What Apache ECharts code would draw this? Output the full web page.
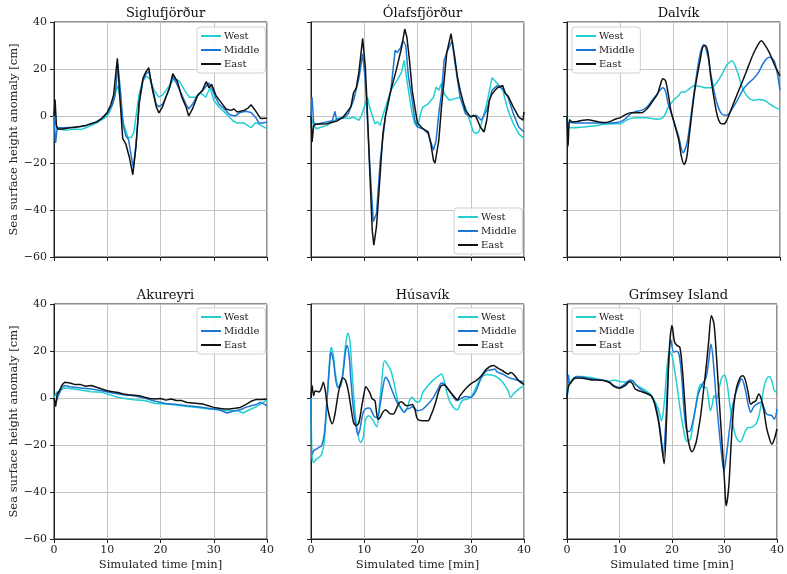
<!DOCTYPE html>
<html><head><meta charset="utf-8">
<script src="https://cdn.jsdelivr.net/npm/echarts@6/dist/echarts.min.js"></script>
<style>html,body{margin:0;padding:0;background:#fff}#c{width:787px;height:574px}</style>
</head><body><div id="c"></div>
<script>
// ---- data (time [min], anomaly [cm]) ----
const stations = ['Siglufjörður','Ólafsfjörður','Dalvík','Akureyri','Húsavík','Grímsey Island'];
const seriesNames = ['West','Middle','East'];
const xTicks = [0,10,20,30,40];
const yTicks = [-60,-40,-20,0,20,40];

const sigW = [[0,0],[0.3,-3],[0.7,-5.5],[1,-6],[2,-6],[3,-5.8],[4,-5.5],[5,-5.8],[6,-5],[7,-4],[8,-3],[9,-1.5],[10,0],[10.5,2],[11,5],[11.5,10],[12,13],[12.5,6],[12.9,-2],[13.9,-9.2],[14.5,-9.2],[15,-7],[15.4,0],[16,9.5],[16.7,15],[17.3,17],[17.9,16],[18.8,11],[19.7,8],[20.4,9],[21.7,13],[22.6,16],[23.5,15],[24.5,11],[25.4,8],[26.6,8],[27.6,9.8],[28.5,8],[29.3,12],[30,6.7],[31,3.8],[32.3,1],[33.5,-1.8],[34.4,-3],[35.7,-3],[37,-5],[37.9,-2.8],[39.2,-4.4],[40,-5.4]];
const sigM = [[0,0],[0.3,-11.5],[0.6,-5],[2,-5],[4,-4.8],[6,-4],[8,-2.5],[9,-1],[10,1],[11,5],[11.5,9],[12,22],[12.5,10],[13,-4],[13.5,-8.5],[14,-10],[14.5,-17],[14.9,-22],[15.4,-12],[16,5],[16.7,15],[17.3,18],[17.8,19],[18.5,12],[19.2,5],[19.7,4],[20.4,5],[21,8],[21.7,12],[22.3,17],[23,14],[24,9],[24.8,5],[25.3,3],[26,5],[27,9],[28,11],[28.7,13],[29.1,14],[29.6,12],[30.3,8],[31,5],[32,3],[33,0.5],[34,0],[35,1.5],[36,2],[37,1.5],[38,-1],[38.5,-3],[39.3,-3],[40,-2.5]];
const sigE = [[0,0],[0.2,7],[0.45,-4],[0.7,-5.5],[1.5,-5.5],[3,-5],[5,-4.5],[6,-4],[7,-3.3],[8,-2.5],[9,-1],[10,1.5],[10.7,5],[11.2,9],[11.9,24.5],[12.4,7],[12.9,-9.5],[13.5,-12],[14.2,-18],[14.8,-25],[15.4,-13],[16,6],[16.7,16],[17.3,19],[17.8,20.5],[18.5,11],[19.2,4],[19.7,1.3],[20.4,4],[21,8],[21.7,12],[22.3,18],[23.2,14.5],[24,8],[24.8,3.8],[25.3,0],[26,3],[27,8.8],[27.9,11],[28.6,14.7],[29.1,12],[29.6,13.5],[30.4,8.8],[31.3,6],[32.3,3],[33.2,2.4],[33.8,3],[34.4,1.7],[35.7,2.4],[36.5,3.5],[37,4.8],[37.6,3],[38.2,1],[38.8,-1.1],[40,-1]];

const olaW = [[0,0],[0.5,-4],[1,-5.4],[2,-4.7],[3,-4],[4,-2.5],[5,-1.1],[6,-0.5],[7,-1.1],[8,-0.5],[9,-1.8],[9.5,0.3],[10,3.8],[10.6,8],[11,3.8],[11.5,0.3],[12,-3.3],[12.5,-2.5],[13,-4],[13.5,0.3],[14,3.8],[15,11],[16,14.5],[17,18.7],[17.5,23.7],[18,15.5],[18.5,8],[19,1],[19.5,-3.3],[20,-4.7],[20.5,0.3],[21,3.8],[22,5.2],[23,8],[23.5,12.3],[24,11],[24.5,13.8],[25,9.5],[26,6.7],[27,7.4],[28,8],[29,3.8],[30,-3.3],[30.5,-6.8],[31,-7.5],[31.5,-6.8],[32,-3.3],[33,5.2],[34,16.3],[35,13.8],[36,11],[36.5,6.7],[37,2.4],[38,-3.3],[39,-7.5],[40,-9.6]];
const olaM = [[0,0],[0.2,8],[0.5,-3],[1,-3.5],[2,-3],[3,-2.5],[4,-2],[4.5,2],[4.8,-1.5],[6,-1],[7,1],[8,6.7],[9,16],[9.7,26.5],[10.2,15],[11,-19],[11.7,-45],[12.3,-41.5],[13,-19],[14,0.3],[15,11],[15.8,28],[16.2,27],[16.8,29],[17.3,32],[17.8,30],[18.3,16.6],[19,6.7],[19.5,-1.8],[20,-4.7],[21,-5.4],[22,-7.5],[23,-14.6],[23.5,-10.4],[24,1],[24.5,9.5],[25,23.7],[25.5,27],[26.5,32],[27,23],[28,8],[29,1],[30,-0.4],[31,0.3],[32,-1.8],[33,2.4],[34,11],[35,13],[36,11.6],[37,8],[38,1],[39,-4.7],[40,-6.8]];
const olaE = [[0,0],[0.2,-11],[0.5,-4],[1,-3.5],[3,-3.3],[5,-2],[6,-0.5],[7,2.4],[7.5,4],[8,10],[8.5,12],[9,18.7],[9.7,33],[10.2,20.8],[10.5,6.7],[11,-21.7],[11.5,-48.6],[11.8,-55],[12.3,-47],[13,-24.5],[13.5,-7.5],[14,0.3],[15,11],[16,19.4],[17,29],[17.6,37],[18,33.6],[18.5,23.6],[19,11],[19.5,3.8],[20,-3],[21,-5.4],[22,-6.8],[22.5,-11.8],[23,-18.9],[23.3,-20],[24,-10.4],[24.5,3.8],[25,15],[25.5,27],[26.3,35],[27,25],[27.5,16.6],[28,11],[29,2.4],[30,-0.4],[30.5,0.3],[31,-0.4],[31.8,-4.7],[32.5,-6.8],[33,-1.8],[33.5,6.7],[34,9.5],[35,12],[36,13],[36.5,9.5],[37,8.5],[38,3.8],[39,-0.4],[39.8,-1.8],[40,1.7]];

const dalW = [[0,0],[0.3,-4.5],[0.5,-5],[1,-5],[3,-4.7],[5,-4.3],[7,-3.5],[9,-3.3],[10,-3.3],[11,-2],[12,-1],[13,-0.7],[15,-0.7],[16,-1.1],[17,-1.4],[18,-0.7],[18.5,1],[19,3.8],[20,6.7],[21,8.8],[21.5,10.2],[22,10.2],[23,11.6],[24,13],[25,12.6],[26,12],[27,12],[28,13.8],[29,17.3],[30,21.6],[31,23.4],[32,18.7],[33,11.6],[34,8],[35,6.7],[36,7],[37,6.7],[38,5.2],[39,3.8],[40,2.8]];
const dalM = [[0,0],[0.25,-5.4],[0.5,-2.8],[2,-3],[4,-3],[6,-3],[8,-3],[10,-2.5],[11,-1.1],[12,1],[13,2],[14,2.4],[15,3.8],[16,6.7],[17,9.5],[18,12],[18.5,10.5],[19,5.2],[20,-1.8],[21,-9],[21.8,-15.6],[22.5,-11.8],[23,-4.7],[24,12.3],[25,26.5],[25.7,30.4],[26.5,25],[27,18],[28,6.7],[29,1],[30,0.3],[31,3],[32,6.7],[33,11],[34,13.8],[35,15.9],[36,18.7],[37,23],[38,25],[39,23],[40,11]];
const dalE = [[0,0],[0.2,-12.8],[0.5,-1.6],[1,-2.5],[2,-2.3],[3,-1.8],[4,-1.6],[5,-2],[6,-2.5],[7,-2.8],[8,-2.4],[9,-1.4],[10,-0.7],[11,0.6],[12,1.4],[13,1.4],[14,1.4],[15,3],[16,6],[17,9.5],[17.5,13],[18,15.9],[18.5,15],[19,9.5],[19.5,2.4],[20,-1.8],[21,-10.4],[21.5,-17.4],[22,-20.6],[22.5,-17.4],[23,-7.5],[24,11],[25,23.7],[25.5,29.4],[26,30],[26.5,26.5],[27,16.6],[28,2.4],[28.5,-1.8],[29,-3.3],[29.5,-3.3],[30,-1.8],[31,3.8],[32,9.5],[33,15],[34,20.8],[35,26.5],[36,30.8],[36.5,32],[37,30.8],[38,27],[39,21.6],[40,17]];

const akuW = [[0,0],[0.5,2.4],[1,3],[2,4.3],[3,4],[5,3.4],[7,2.7],[9,2.4],[10,1.7],[11,1],[12,0.3],[13,-0.1],[15,-0.7],[17,-1.1],[19,-2.3],[21,-2.6],[23,-3],[25,-3.6],[27,-4],[29,-4.7],[31,-5],[33,-5.4],[34.5,-5.4],[35.5,-6.4],[37,-4.7],[38,-3.7],[39,-2.3],[40,-0.7]];
const akuM = [[0,0],[0.3,-2.6],[0.7,0.5],[1.5,4.6],[2,5.3],[3,4.8],[5,4.3],[7,3.8],[9,3.1],[11,2.1],[13,1.4],[15,1],[17,0],[19,-1.4],[21,-2.3],[23,-2.8],[25,-3.3],[27,-3.7],[29,-4.4],[31,-5],[32.5,-6.4],[34,-5.4],[35,-5],[36,-4],[37,-3.3],[38,-2.8],[38.7,-1.9],[39.5,-2.6],[40,-3.3]];
const akuE = [[0,0],[0.3,-3.7],[0.6,1.7],[1,3],[1.5,5.5],[2,6.7],[3,6.4],[4,5.7],[5,5.7],[6,5],[7,5.3],[8,4.6],[9,3.8],[10,3.1],[11,2.7],[12,2.3],[13,1.7],[14,1.4],[15,1.2],[16,1],[17,0.3],[18,-0.2],[19,-0.4],[20,-0.2],[21,-0.9],[22,-0.4],[23,-1.1],[24,-1.1],[25,-1.9],[26,-2.1],[27,-2.3],[28,-2.6],[29,-3.3],[30,-4],[31,-4.4],[32,-4.7],[33,-4.7],[34,-4.4],[35,-4],[36,-2.8],[37,-1.4],[38,-0.6],[39,-0.6],[40,-0.4]];

const husW = [[0,0],[0.2,-25.3],[0.5,-27.4],[1,-26],[1.5,-25.3],[2,-23.9],[2.5,-18.5],[3,-1.1],[3.5,15.9],[3.8,21.6],[4.2,18.1],[4.5,11.6],[5,5.2],[5.5,4.5],[6,11.6],[6.5,22.7],[6.9,27.7],[7.3,24.4],[7.7,11.6],[8.2,-4],[8.7,-14],[9.3,-18.9],[9.8,-16.8],[10.2,-9.7],[10.8,-7.5],[11.5,-9],[12,-11],[12.4,-12.2],[12.8,-4],[13.3,7.4],[13.8,15.9],[14.5,13.8],[15,11.6],[15.5,7.4],[16,1.7],[16.5,-2.6],[17,-4.7],[17.5,-6.1],[18,-4.7],[18.5,-1.1],[19,0.3],[19.5,-1.1],[20,-1.8],[20.5,-1.1],[21,2.4],[22,5.3],[23,7.7],[24,9.5],[24.5,10.2],[25,7.4],[25.5,2.4],[26,-1.1],[27,-4.7],[27.5,-5],[28,-2.6],[28.5,-0.9],[29,-0.7],[30,0.3],[31,4.5],[32,8.8],[33,10],[34,9.8],[35,8.8],[36,6.7],[37,3.1],[37.5,0.3],[38,1.7],[39,3.8],[40,5.3]];
const husM = [[0,0],[0.2,-23.9],[0.5,-22.4],[1,-21.8],[1.5,-21],[2,-20.3],[2.5,-15.3],[3,-1.1],[3.5,14.5],[3.7,19.5],[4.2,16],[4.5,10.2],[5,4.5],[5.5,5.2],[6,10.2],[6.5,20.2],[6.8,22.3],[7.2,17],[7.5,7.4],[8,-5.4],[8.5,-12.5],[8.8,-15.6],[9.2,-13.2],[9.7,-6.8],[10.2,-4.7],[11,-4.3],[11.5,-6.1],[12,-8.2],[12.5,-8.2],[13,-2.6],[13.5,4.5],[14,8.8],[14.5,7.4],[15,4.5],[16,-1.1],[17,-4.7],[17.5,-6.1],[18,-4.7],[18.5,-4.4],[19,-3.7],[20,-5.4],[21,-4.7],[22,-2.6],[23,0.3],[24,4.5],[24.5,6.4],[25,6],[26,3.1],[27,-0.4],[27.5,-1.1],[28,-0.4],[29,0.6],[30,0.3],[31,3.1],[32,8.8],[33,11.6],[34,12],[34.5,12.3],[35,11],[36,10.2],[37,8.8],[38,8.1],[39,7.4],[40,6.7]];
const husE = [[0,0],[0.2,5.3],[0.5,1],[0.8,3],[1.5,2.6],[2,4.5],[2.3,6.7],[2.7,3],[3,-2.6],[3.5,-8.2],[4,-11],[4.5,-6.8],[5,0.3],[5.5,6],[6,8.5],[6.5,7.4],[7,3],[7.5,-4],[8,-10.4],[8.5,-11.8],[9,-10.4],[9.5,-4],[10,2.4],[10.3,4.8],[11,2.4],[11.5,-0.4],[12,-1.1],[12.3,-6],[12.6,-9],[13,-8.2],[13.5,-6],[14,-5],[14.5,-6],[15,-6.8],[15.5,-6.8],[16,-4.7],[16.5,-2.3],[17,-1.6],[17.5,-2.6],[18,-3.3],[19,-2.8],[19.5,-4.7],[20,-9],[21,-9.7],[22,-9.7],[22.5,-7.5],[23,-4.7],[23.5,-1.1],[24,3],[24.5,5.3],[25,5.5],[25.5,4.5],[26,3],[27,0.3],[27.5,-0.7],[28,1],[29,3.8],[30,6],[31,7.4],[32,9.5],[33,12.4],[34.3,13.8],[35,12.8],[36,11.6],[37,10.2],[37.5,10.8],[38,10.2],[39,7.4],[40,5.7]];

const griW = [[0,0],[0.3,4.5],[1,8],[2,9.2],[3,9.1],[4,8.8],[5,8.5],[6,8],[7,7.7],[8,7.1],[9,7.7],[10,7],[11,6.8],[12,7],[12.5,7.1],[13,5.7],[14,4.5],[15,3.1],[16,1.3],[17,-2.6],[17.5,-5.4],[18,-9.7],[18.5,-2.6],[19,11.6],[19.5,19.9],[20,18.1],[20.5,11.6],[21,4.5],[21.5,-4],[22,-11],[22.5,-16.8],[23,-18.6],[23.5,-17.5],[24,-11],[24.5,-4],[25,3.1],[25.5,6],[26,4.5],[26.5,4.5],[27,-1.1],[27.3,-5.4],[27.7,-2.6],[28,1],[28.5,-0.4],[29,4.5],[29.5,8.8],[30,9.8],[30.5,6],[31,-2.6],[31.5,-9.7],[32,-15.3],[32.5,-17.8],[33,-18.6],[33.5,-16.8],[34,-14],[34.5,-12.5],[35,-12.5],[36,-11],[36.5,-8.2],[37,-2.6],[37.5,4.5],[38,8],[38.5,9.2],[39,7.4],[39.5,3.1],[40,2.4]];
const griM = [[0,0],[0.3,9.8],[0.5,6],[1,7.4],[1.5,8.8],[2,9.1],[3,8.8],[4,8.4],[5,8.1],[6,7.7],[7,7.5],[8,6.8],[9,5.3],[10,4.5],[11,5.9],[12,7.7],[12.5,7.4],[13,6],[14,3.8],[15,2.4],[16,1],[16.5,-1.1],[17,-4],[17.5,-9.7],[18,-18.2],[18.3,-25],[18.8,-11],[19.3,13],[19.8,24.7],[20.3,19.5],[20.8,19.9],[21.3,19],[21.8,10.2],[22.3,-5.4],[22.8,-14],[23.3,-14.3],[24,-9.7],[24.5,-4],[25,1.7],[25.5,4.5],[26,6.7],[26.5,8.8],[27,15.9],[27.4,23],[27.8,17.3],[28.3,3.1],[28.8,-9.7],[29.3,-21],[29.9,-31],[30.4,-23.9],[31,-12.5],[31.5,-4],[32,1],[32.5,4.5],[33,7.4],[33.3,8.1],[34,3.1],[34.5,-2.6],[35,-6.1],[35.5,-4],[36,-2.8],[37,-1.8],[37.5,-4],[38,-6.8],[39,-7.5],[39.5,-9],[40,-4.7]];
const griE = [[0,0],[0.3,5.3],[0.7,6.4],[1,7.4],[1.5,8.4],[2,8.5],[3,8.4],[4,8],[5,7.7],[6,7.7],[7,7.4],[8,6.7],[9,4.8],[10,4.1],[11,5.2],[12,7],[12.5,6],[13,3.8],[14,2.8],[15,2.1],[16,1],[16.5,-1.1],[17,-5.4],[17.5,-11],[18,-19.6],[18.5,-28],[19,-7],[19.5,21],[20,30.8],[20.5,23.7],[21,22.3],[21.5,21.6],[22,11.6],[22.5,-4],[23,-16.8],[23.8,-22.9],[24.5,-19.6],[25,-14],[25.5,-6.8],[26,3.1],[26.5,13],[27,24.4],[27.5,35],[28,31.5],[28.5,16.6],[29,-1.1],[29.5,-18.2],[30,-35.2],[30.3,-45.9],[30.8,-38],[31.3,-18.2],[31.8,-2.6],[32.3,4.5],[33,8.8],[33.5,9.5],[34,7.4],[34.5,2.4],[35,-2.6],[35.5,-1.8],[36,-1.1],[36.5,1.7],[37,-0.4],[37.5,-5.4],[38,-12.5],[38.5,-16.8],[39,-19.6],[39.5,-17.4],[40,-13.2]];

const panelData = [[sigW,sigM,sigE],[olaW,olaM,olaE],[dalW,dalM,dalE],[akuW,akuM,akuE],[husW,husM,husE],[griW,griM,griE]];

// ---- layout & style ----
const FONT = '"DejaVu Serif", serif';
const colors = ['#22cfd0','#1c76d6','#111111'];
const colLeft = [54, 311, 567];
const rowTop = [22, 304];
const W = 213, H = 235;
const smoothPanel = [false,false,0.3,false,0.3,0.3];
const legendPos = [[197,27],[454,208],[572,27],[197,308],[454,308],[572,308]];

const grids=[], xAxes=[], yAxes=[], series=[], titles=[], legends=[];
const fmtY = v => v < 0 ? '\u2212' + (-v) : String(v);
for (let p = 0; p < 6; p++) {
  const r = Math.floor(p/3), c = p % 3;
  grids.push({left: colLeft[c], top: rowTop[r], width: W, height: H, show: true,
    borderColor: '#222', borderWidth: 1, backgroundColor: 'transparent', containLabel: false});
  xAxes.push({type: 'value', gridIndex: p, min: xTicks[0], max: xTicks[xTicks.length-1], interval: 10,
    axisLine: {show: true, onZero: false, lineStyle: {color: '#222', width: 1}},
    axisTick: {show: true, inside: false, length: 4, lineStyle: {color: '#222'}},
    axisLabel: {show: r === 1, margin: 6, color: '#222', fontFamily: FONT, fontSize: 11},
    splitLine: {show: true, lineStyle: {color: '#c4c4c4', width: 1}},
    name: r === 1 ? 'Simulated time [min]' : '', nameLocation: 'middle', nameGap: 20,
    nameTextStyle: {fontFamily: FONT, fontSize: 11.5, color: '#222'}});
  yAxes.push({type: 'value', gridIndex: p, min: yTicks[0], max: yTicks[yTicks.length-1], interval: 20,
    axisLine: {show: true, onZero: false, lineStyle: {color: '#222', width: 1}},
    axisTick: {show: true, inside: false, length: 4, lineStyle: {color: '#222'}},
    axisLabel: {show: c === 0, margin: 7, color: '#222', fontFamily: FONT, fontSize: 11, formatter: fmtY},
    splitLine: {show: true, lineStyle: {color: '#c4c4c4', width: 1}},
    name: c === 0 ? 'Sea surface height anomaly [cm]' : '', nameLocation: 'middle', nameGap: 30,
    nameTextStyle: {fontFamily: FONT, fontSize: 11.5, color: '#222'}});
  titles.push({text: stations[p], left: colLeft[c] + W/2, top: rowTop[r] - 20, textAlign: 'center',
    textStyle: {fontFamily: FONT, fontSize: 13, fontWeight: 'normal', color: '#111'}});
  legends.push({data: seriesNames.slice(), orient: 'vertical', left: legendPos[p][0], top: legendPos[p][1],
    icon: 'rect', itemWidth: 20, itemHeight: 2, itemGap: 4,
    backgroundColor: 'rgba(255,255,255,0.85)', borderColor: '#d0d0d0', borderWidth: 1, borderRadius: 3,
    padding: [4, 6, 4, 4],
    textStyle: {fontFamily: FONT, fontSize: 10, color: '#222', padding: [0,0,0,-2]}});
  for (let s = 0; s < 3; s++) {
    series.push({type: 'line', name: seriesNames[s], xAxisIndex: p, yAxisIndex: p,
      data: panelData[p][s], showSymbol: false, symbol: 'none', smooth: smoothPanel[p],
      lineStyle: {color: colors[s], width: 1.5}, itemStyle: {color: colors[s]},
      animation: false, z: 2 + s});
  }
}

const chart = echarts.init(document.getElementById('c'), null, {renderer: 'canvas'});
chart.setOption({animation: false, backgroundColor: '#fff', title: titles, legend: legends,
  grid: grids, xAxis: xAxes, yAxis: yAxes, series: series});
</script></body></html>
